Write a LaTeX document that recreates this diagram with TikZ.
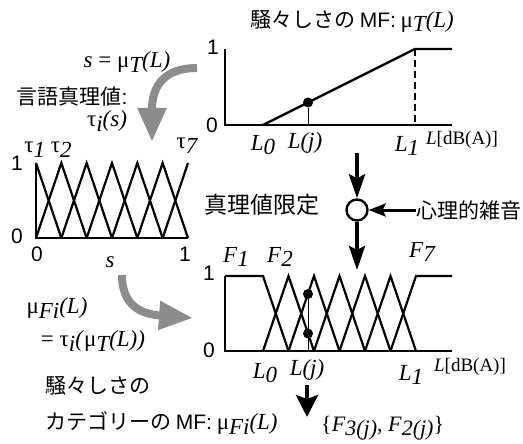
\documentclass[tikz,border=0pt]{standalone}
\usepackage{fontspec}
\setmainfont{Liberation Serif}
\newfontfamily\jpfont{Noto Sans CJK JP}
\newfontfamily\arial{Liberation Sans}
\usetikzlibrary{arrows.meta,positioning}
\definecolor{arrgray}{gray}{0.55}
\newcommand{\dn}[1]{\raisebox{-0.45ex}{\itshape #1}}

\begin{document}
\begin{tikzpicture}[x=1pt, y=-1pt,
    ax/.style={line width=2.4pt},
    tri/.style={line width=2.2pt},
    stem/.style={line width=1pt},
    jp/.style={font=\jpfont\fontsize{21}{24}\selectfont, inner sep=0pt},
    num/.style={font=\arial\fontsize{21}{24}\selectfont, inner sep=0pt},
    lbl/.style={font=\fontsize{23}{26}\selectfont\itshape, inner sep=0pt},
    eq/.style={font=\fontsize{23}{26}\selectfont, inner sep=0pt},
    unit/.style={font=\fontsize{19}{22}\selectfont, inner sep=0pt},
    dot/.style={circle, fill, inner sep=0pt, minimum size=10pt},
    garrow/.style={line width=8pt, arrgray, -{Triangle[length=34pt,width=27pt]}},
    barrow/.style={line width=4pt, -{Stealth[length=24pt,width=16pt,inset=4pt]}},
    sarrow/.style={line width=3pt, -{Stealth[length=17pt,width=13pt,inset=3pt]}}]
  \useasboundingbox (0,0) rectangle (523,444);

  % top chart
  \draw[ax] (225,49) -- (225,125) -- (452,125);
  \draw[ax] (263,125) -- (415,49) -- (452,49);
  \draw[line width=1.2pt, dashed, dash pattern=on 7pt off 4pt] (415,49) -- (415,125);
  \node[dot] (tdot) at (308,102.5) {};
  \coordinate (tbase) at (308,125);
  \draw[stem] (tbase) -- (tdot);
  \node[jp] (ttitle) at (352,21) {騒々しさの {\arial MF:} {\rmfamily\fontsize{23}{26}\selectfont μ\dn{T}\textit{(L)}}};
  \node[num] (tone) at (213,47) {1};
  \node[num] (tzero) at (212,125) {0};
  \node[lbl] (tL0) at (263,145) {L\dn{0}};
  \node[lbl] (tLj) at (305,143) {L(j)};
  \node[lbl] (tL1) at (407,146) {L\dn{1}};
  \node[unit] (tunit) at (462,140) {\textit{L}[dB(A)]};

  % left chart
  \draw[ax] (36,163) -- (36,238) -- (188,238);
  \draw[tri] (36,163) -- (61.33,238);
  \foreach \i in {1,...,5}
    \draw[tri] ({36+(\i-1)*25.33},238) -- ({36+\i*25.33},163) -- ({36+(\i+1)*25.33},238);
  \draw[tri] (162.67,238) -- (188,163);
  \node[eq] (sdef) at (127,62) {\textit{s} = μ\dn{T}\textit{(L)}};
  \node[jp] (ltv) at (72,97) {言語真理値{\arial :}};
  \node[eq] (tis) at (107,121) {τ\dn{i}\textit{(s)}};
  \node[eq] (t12) at (48,150) {τ\dn{1} τ\dn{2}};
  \node[eq] (t7) at (187,146) {τ\dn{7}};
  \node[num] (lone) at (17,163) {1};
  \node[num] (lzero) at (17,236) {0};
  \node[num] (szero) at (37,254) {0};
  \node[num] (sone) at (185,254) {1};
  \node[lbl] (sax) at (110,262) {s};

  % truth value qualification
  \node[circle, draw, line width=2.4pt, minimum size=21pt, inner sep=0pt] (lim) at (357,210) {};
  \node[jp, font=\jpfont\fontsize{23}{26}\selectfont] (limtxt) at (262,205) {真理値限定};
  \node[jp, anchor=west] (noise) at (416,210) {心理的雑音};
  \coordinate (tin) at (357,153);
  \coordinate (bout) at (357,270);
  \draw[barrow] (tin) -- (lim);
  \draw[barrow] (lim) -- (bout);
  \draw[sarrow] (noise.west) -- (lim);

  % bottom chart
  \draw[ax] (225,276) -- (225,351) -- (452,351);
  \draw[tri] (225,276) -- (263,276) -- (288.5,351);
  \foreach \i in {1,...,5}
    \draw[tri] ({263+(\i-1)*25.5},351) -- ({263+\i*25.5},276) -- ({263+(\i+1)*25.5},351);
  \draw[tri] (390.5,351) -- (416,276) -- (452,276);
  \node[dot] (bdot3) at (308,294) {};
  \node[dot] (bdot2) at (308,333.5) {};
  \coordinate (bbase) at (308,351);
  \draw[stem] (bbase) -- (bdot3);
  \node[num] (bone) at (209,273) {1};
  \node[num] (bzero) at (209,350) {0};
  \node[lbl] (F1) at (236,257) {F\dn{1}};
  \node[lbl] (F2) at (280,257) {F\dn{2}};
  \node[lbl] (F7) at (422,252) {F\dn{7}};
  \node[lbl] (bL0) at (265,373) {L\dn{0}};
  \node[lbl] (bLj) at (307,370) {L(j)};
  \node[lbl] (bL1) at (411,375) {L\dn{1}};
  \node[unit] (bunit) at (470,367) {\textit{L}[dB(A)]};
  \node[eq, font=\fontsize{22}{25}\selectfont, anchor=west] (fset) at (321,428) {\{\textit{F}\dn{3(j)}, \textit{F}\dn{2(j)}\}};
  \draw[barrow, -{Stealth[length=22pt,width=22pt,inset=4pt]}] ([yshift=-4pt]bLj.south) -- (bLj.south |- 0,417);

  % left bottom texts
  \node[eq] (mufi) at (57,308) {μ\dn{Fi}\textit{(L)}};
  \node[eq] (mueq) at (93,341) {= τ\dn{i}\textit{(}μ\dn{T}\textit{(L))}};
  \node[jp, anchor=west] (cat1) at (45,386) {騒々しさの};
  \node[jp, anchor=west] (cat2) at (45,423) {カテゴリーの {\arial MF:} {\rmfamily\fontsize{23}{26}\selectfont μ\dn{Fi}\textit{(L)}}};

  % gray arrows
  \coordinate (g1s) at (197,68);
  \coordinate (g1e) at (152,142);
  \draw[garrow] (g1s) .. controls (165,68) and (152,85) .. (g1e);
  \coordinate (g2s) at (122,275);
  \coordinate (g2e) at (193,318);
  \draw[garrow] (g2s) .. controls (122,305) and (140,314) .. (g2e);
\end{tikzpicture}
\end{document}
